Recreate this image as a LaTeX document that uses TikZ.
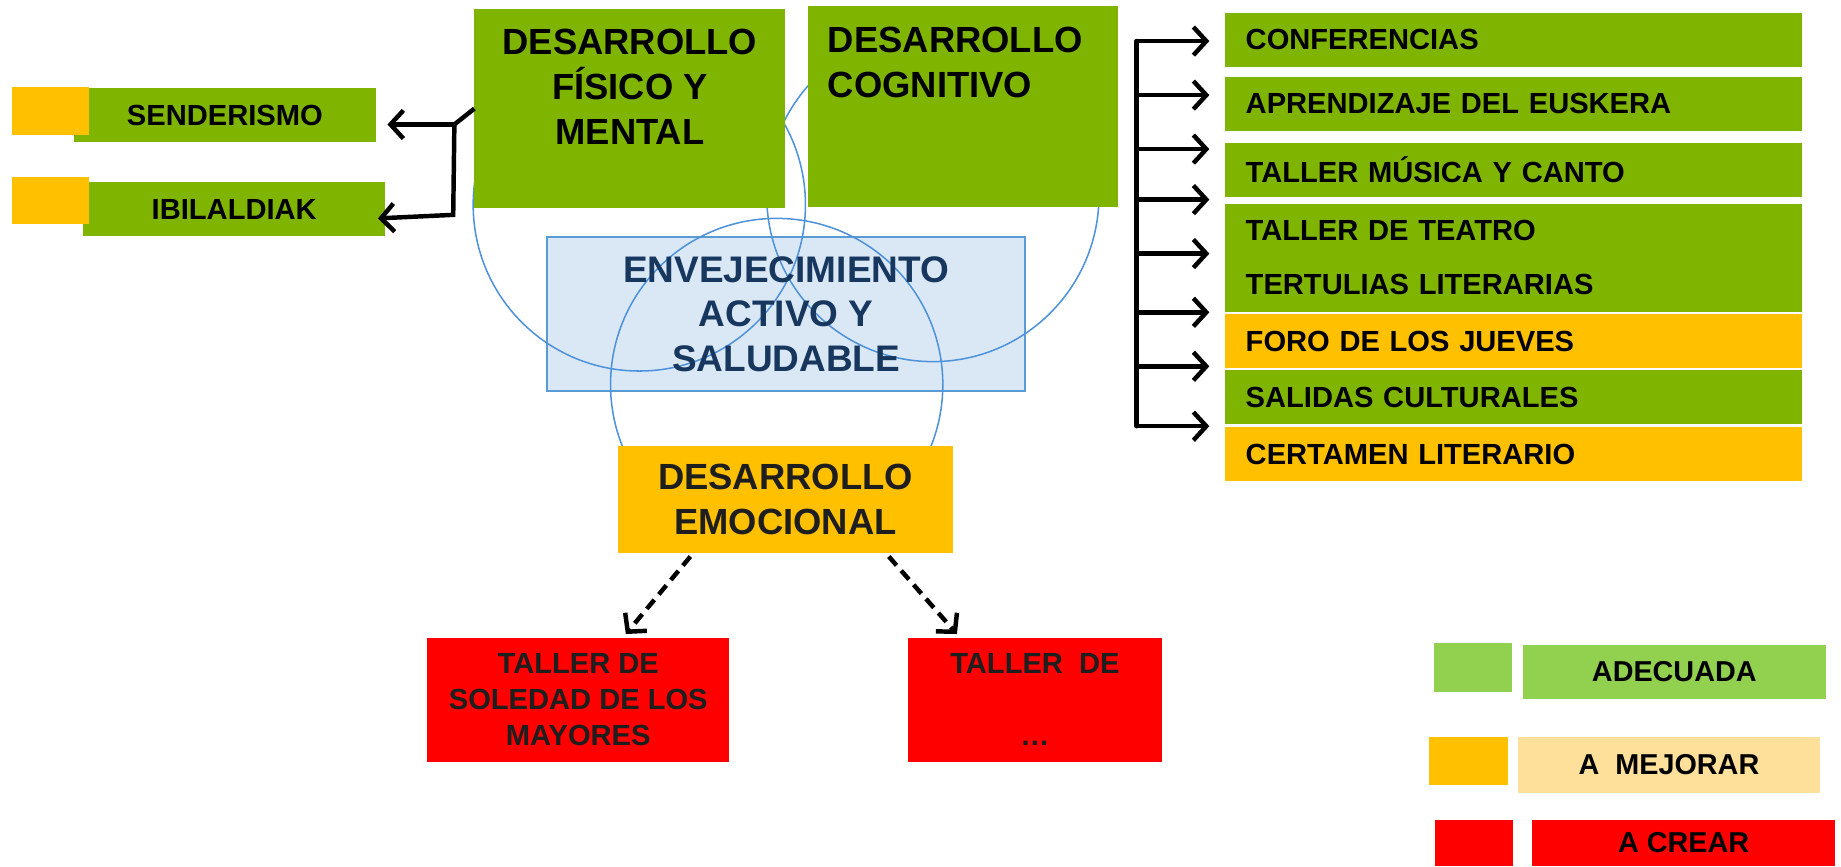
\documentclass[tikz,border=0pt]{standalone}
\usepackage{fontspec}
\setmainfont{Liberation Sans}
\usetikzlibrary{arrows.meta}
\definecolor{actgreen}{HTML}{7FB500}
\definecolor{mejorar}{HTML}{FFC000}
\definecolor{crear}{HTML}{FF0000}
\definecolor{okgreen}{HTML}{92D050}
\definecolor{pale}{HTML}{FFE09B}
\definecolor{bluefill}{HTML}{DAE8F6}
\definecolor{blueline}{HTML}{5B9BD5}
\definecolor{circblue}{HTML}{4F92DC}
\definecolor{navy}{HTML}{17375E}
\definecolor{darktext}{HTML}{1E1E1E}
\tikzset{
  box/.style={rectangle, inner sep=0pt, outer sep=0pt, align=center},
  boxsize/.style 2 args={minimum width=#1pt, minimum height=#2pt},
  bigtext/.style={font=\fontsize{31}{38}\selectfont\bfseries, align=center, inner sep=0pt},
  smalltext/.style={font=\fontsize{24.8}{30.5}\selectfont\bfseries},
  legtext/.style={font=\fontsize{24.5}{30}\selectfont\bfseries},
  actbox/.style={box, boxsize={492}{46}, text width=456pt, inner xsep=18pt, align=left, smalltext},
  conn/.style={line width=3.8pt},
  barb/.style={conn, -{Straight Barb[length=11pt,width=24pt]}},
  dbarb/.style={barb, dash pattern=on 10pt off 6pt},
  circ/.style={draw=circblue, line width=1.3pt},
}
\newcommand\actrow[5]{%
  \node[actbox, fill=#2] (#1) at (1289,#3) {#5};
  \coordinate (#1tip) at ([xshift=-13pt,yshift=#4pt]#1.west);
  \draw[barb] (spinetop |- #1tip) -- (#1tip);
}

\begin{document}
\begin{tikzpicture}[x=1pt,y=-1pt]
  \useasboundingbox (0,0) rectangle (1568,738);
  % Centre and the three circles
  \node[box, fill=bluefill, draw=blueline, line width=1.5pt, boxsize={407}{131}] (envej) at (669.5,267.5) {};
  \draw[circ] (544.5,174.5) circle[radius=141.5pt];
  \draw[circ] (794.5,166.5) circle[radius=141.5pt];
  \draw[circ] (661.5,327.5) circle[radius=141.5pt];
  \node[bigtext, font=\fontsize{31.5}{38}\selectfont\bfseries, text=navy] (envejtxt) at (envej.center) {ENVEJECIMIENTO\\ACTIVO Y\\SALUDABLE};

  % The three areas
  \node[box, fill=actgreen, boxsize={265}{169}] (fisico) at (536.5,92.5) {};
  \node[bigtext] (fisicotxt) at (536.5,74) {DESARROLLO\\FÍSICO Y\\MENTAL};
  \node[box, fill=actgreen, boxsize={264}{171}] (cogni) at (820,90.5) {};
  \node[bigtext, align=left, anchor=west] (cognitxt) at (705,53) {DESARROLLO\\COGNITIVO};
  \node[box, fill=mejorar, boxsize={286}{91}, bigtext, text=darktext] (emoc) at (669,425.5) {DESARROLLO\\EMOCIONAL};

  % Fisico y mental
  \node[box, fill=actgreen, boxsize={257}{46}, smalltext] (sender) at (191.5,98) {SENDERISMO};
  \node[box, fill=mejorar, boxsize={66}{41}] (senderst) at (43,94.5) {};
  \node[box, fill=actgreen, boxsize={257}{46}, smalltext] (ibil) at (199.5,178) {IBILALDIAK};
  \node[box, fill=mejorar, boxsize={66}{40}] (ibilst) at (43,171) {};
  \coordinate (fork) at (387,106);
  \coordinate (knee) at (386,183);
  \draw[conn] (fisico.west) -- (fork);
  \draw[barb] (fork) -- ([xshift=10pt,yshift=-8pt]sender.east);
  \draw[barb] (fork) -- (knee) -- ([xshift=-6pt,yshift=-8pt]ibil.east);

  % Cognitivo
  \coordinate (spinetop) at (968,35);
  \coordinate (spinebot) at (968,363);
  \draw[conn, line cap=round] (spinetop) -- (spinebot);
  \actrow{conf}{actgreen}{34}{-1}{CONFERENCIAS}
  \actrow{eusk}{actgreen}{88.5}{7.5}{APRENDIZAJE DEL EUSKERA}
  \actrow{musica}{actgreen}{144.5}{17.5}{TALLER MÚSICA Y CANTO}
  \actrow{teatro}{actgreen}{196.5}{26.5}{TALLER DE TEATRO}
  \actrow{tert}{actgreen}{242.5}{26.5}{TERTULIAS LITERARIAS}
  \actrow{foro}{mejorar}{290.5}{24.5}{FORO DE LOS JUEVES}
  \actrow{salidas}{actgreen}{338.5}{26.5}{SALIDAS CULTURALES}
  \actrow{certamen}{mejorar}{387}{24}{CERTAMEN LITERARIO}

  % Emocional
  \node[box, fill=crear, boxsize={257}{106}, smalltext, text=darktext] (soledad) at (492.5,596) {TALLER DE\\SOLEDAD DE LOS\\MAYORES};
  \node[box, fill=crear, boxsize={217}{106}, smalltext, text=darktext] (otro) at (881.5,596) {TALLER\ \ DE\\[30.5pt]…};
  \draw[dbarb] ([xshift=-81pt,yshift=-3pt]emoc.south) -- ([xshift=40.5pt,yshift=3pt]soledad.north);
  \draw[dbarb] ([xshift=88pt,yshift=-3pt]emoc.south) -- ([xshift=-66.5pt,yshift=3pt]otro.north);

  % Legend
  \node[box, fill=okgreen, boxsize={67}{41}] (okst) at (1254.5,568.5) {};
  \node[box, fill=okgreen, boxsize={258}{46}, legtext] (ok) at (1426,572) {ADECUADA};
  \node[box, fill=mejorar, boxsize={67}{41}] (mejst) at (1250.5,648.5) {};
  \node[box, fill=pale, boxsize={257}{47}, legtext] (mej) at (1421.5,651.5) {A\ \ MEJORAR};
  \node[box, fill=crear, boxsize={67}{40}] (crest) at (1255.5,718) {};
  \node[box, fill=crear, boxsize={258}{40}, legtext] (cre) at (1434,718) {A CREAR};
\end{tikzpicture}
\end{document}
